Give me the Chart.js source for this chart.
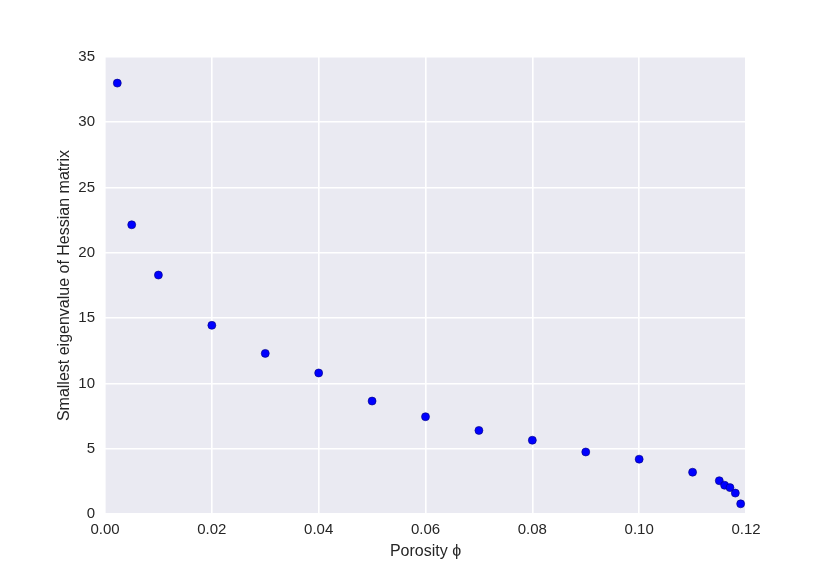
<!DOCTYPE html>
<html lang="en">
<head>
    <meta charset="UTF-8">
    <title>Smallest eigenvalue vs porosity</title>
    <script src="https://cdn.jsdelivr.net/npm/chart.js"></script>
    <style>
        html, body { margin: 0; padding: 0; background: #fff; }
        #wrap { width: 830px; height: 571px; }
    </style>
</head>
<body>
    <div id="wrap"><canvas id="myChart"></canvas></div>

    <script>
        // values
        var porosity = [0.0023, 0.005, 0.01, 0.02, 0.03, 0.04, 0.05, 0.06, 0.07, 0.08, 0.09, 0.10,
                        0.11, 0.115, 0.116, 0.117, 0.118, 0.119];
        var eigenvalue = [33.0, 22.15, 18.3, 14.45, 12.3, 10.8, 8.65, 7.45, 6.4, 5.65, 4.75, 4.2,
                          3.2, 2.55, 2.2, 2.02, 1.6, 0.78];
        var xTicks = [0, 0.02, 0.04, 0.06, 0.08, 0.10, 0.12];
        var yTicks = [0, 5, 10, 15, 20, 25, 30, 35];

        var points = [];
        for (var i = 0; i < porosity.length; i++) {
            points.push({ x: porosity[i], y: eigenvalue[i] });
        }

        // grey panel behind the plot, seaborn style
        var panelBg = {
            id: 'panelBg',
            beforeDraw: function (chart) {
                var a = chart.chartArea, c = chart.ctx;
                c.save();
                c.fillStyle = '#eaeaf2';
                c.fillRect(a.left, a.top, a.right - a.left, a.bottom - a.top);
                c.restore();
            }
        };

        var tickFont = { family: 'Liberation Sans, Arial, sans-serif', size: 15 };
        var titleFont = { family: 'Liberation Sans, Arial, sans-serif', size: 16 };

        new Chart(document.getElementById('myChart'), {
            type: 'scatter',
            data: {
                datasets: [{
                    data: points,
                    backgroundColor: '#0000ff',
                    borderColor: '#00007a',
                    borderWidth: 0.6,
                    pointRadius: 4,
                    pointHoverRadius: 4
                }]
            },
            plugins: [panelBg],
            options: {
                responsive: true,
                maintainAspectRatio: false,
                animation: false,
                layout: { padding: { left: 0, right: 84, top: 57, bottom: 0 } },
                plugins: { legend: { display: false }, tooltip: { enabled: false } },
                scales: {
                    x: {
                        type: 'linear',
                        min: 0, max: 0.12,
                        afterBuildTicks: function (s) { s.ticks = xTicks.map(function (v) { return { value: v }; }); },
                        afterFit: function (s) { s.height = 57; },
                        grid: { color: '#ffffff', lineWidth: 1.6, drawTicks: false },
                        border: { display: false },
                        ticks: {
                            padding: 7, color: '#262626', font: tickFont, maxRotation: 0,
                            callback: function (v) { return v.toFixed(2); }
                        },
                        title: { display: true, text: 'Porosity ϕ', color: '#262626', font: titleFont,
                                 padding: { top: 6, bottom: 9.5 } }
                    },
                    y: {
                        min: 0, max: 35,
                        afterBuildTicks: function (s) { s.ticks = yTicks.map(function (v) { return { value: v }; }); },
                        afterFit: function (s) { s.width = 105; },
                        grid: { color: '#ffffff', lineWidth: 1.6, drawTicks: false },
                        border: { display: false },
                        ticks: { padding: 10, color: '#262626', font: tickFont },
                        title: { display: true, text: 'Smallest eigenvalue of Hessian matrix', color: '#262626',
                                 font: titleFont, padding: { top: 54.5, bottom: 0 } }
                    }
                }
            }
        });
    </script>
</body>
</html>
